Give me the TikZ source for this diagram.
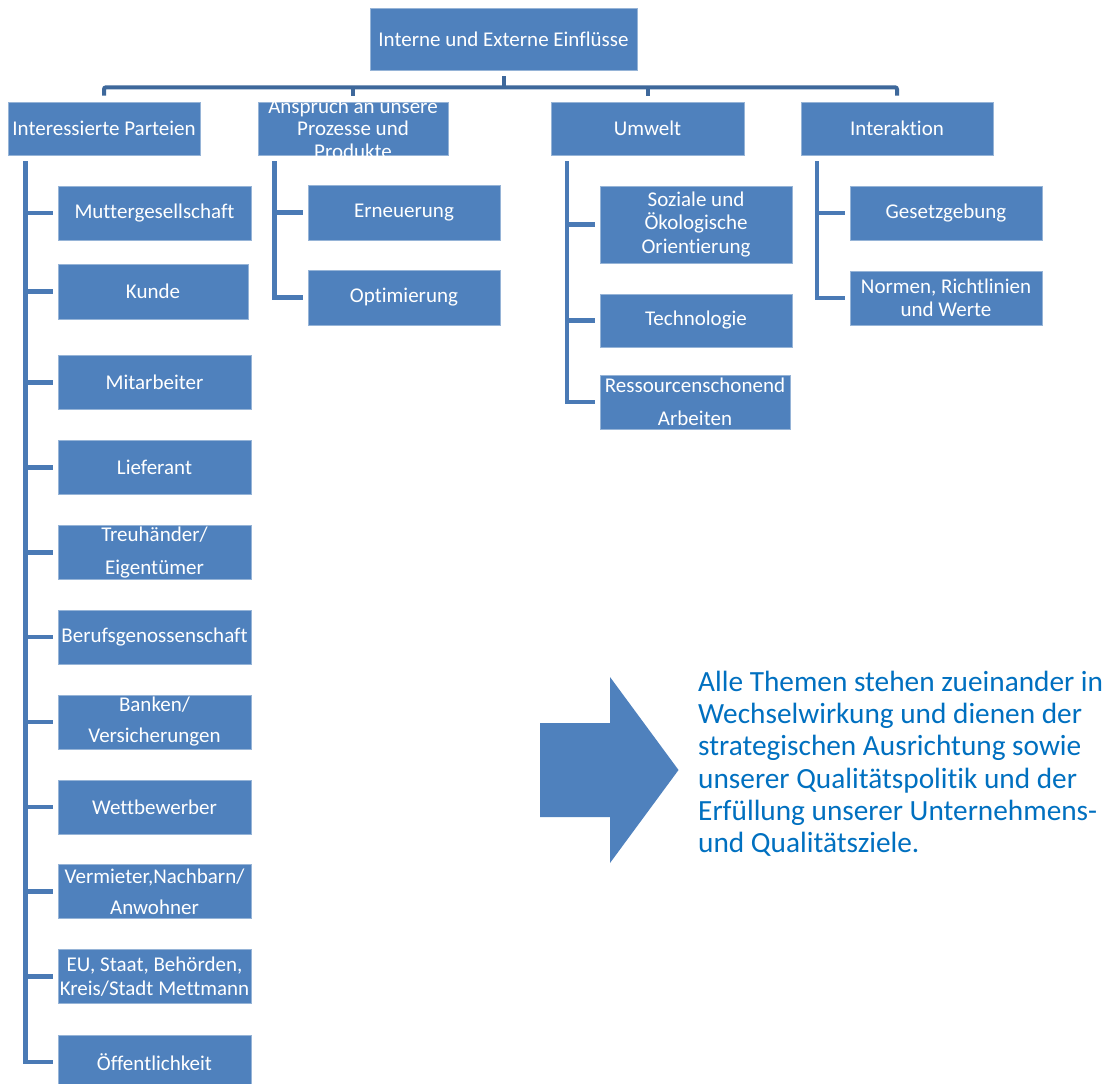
\documentclass[tikz,border=0pt]{standalone}
\usepackage{fontspec}
\setmainfont{Carlito}[Ligatures=NoCommon]
\definecolor{boxblue}{RGB}{79,129,189}
\definecolor{boxedge}{RGB}{150,180,215}
\definecolor{barblue}{RGB}{62,104,155}
\definecolor{linkblue}{RGB}{74,122,181}
\definecolor{txtblue}{RGB}{0,112,192}
\begin{document}
\begin{tikzpicture}[x=1pt,y=-1pt,
  bx/.style={rectangle, fill=boxblue, draw=boxedge, line width=0.6pt, text=white,
    inner sep=0pt, align=center, font=\fontsize{21}{23.5}\selectfont},
  wide/.style={font=\fontsize{21}{33}\selectfont},
  std/.style={minimum width=193, minimum height=54},
  bar/.style={draw=barblue, line width=4pt},
  link/.style={draw=linkblue, line width=4.5pt},
]
\useasboundingbox[fill=white] (0,0) rectangle (1115,1083);

% top
\node[bx, minimum width=267, minimum height=62] (top) at (503.5,39) {Interne und Externe Einflüsse};

% level 1
\node[bx, minimum width=192, minimum height=53] (ip) at (104,128.5) {Interessierte Parteien};
\node[bx, minimum width=190, minimum height=53] (ap) at (353,128.5) {};
\begin{scope}
  \clip (ap.south west) rectangle (ap.north east);
  \node[text=white, inner sep=0pt, align=center, font=\fontsize{21}{22.5}\selectfont] (aptext) at (ap.center) {Anspruch an unsere\\Prozesse und\\Produkte};
\end{scope}
\node[bx, minimum width=193, minimum height=53] (um) at (647.5,128.5) {Umwelt};
\node[bx, minimum width=192, minimum height=53] (ia) at (897,128.5) {Interaktion};

% left column
\node[bx, std] (mg) at (154.5,213) {Muttergesellschaft};
\node[bx, minimum width=190, minimum height=55] (ku) at (153,291.5) {Kunde};
\node[bx, std] (mi) at (154.5,382.5) {Mitarbeiter};
\node[bx, std] (li) at (154.5,467.5) {Lieferant};
\node[bx, std, wide] (tr) at (154.5,552.5) {Treuhänder/\\Eigentümer};
\node[bx, std] (be) at (154.5,637) {Berufsgenossenschaft};
\node[bx, std, font=\fontsize{21}{31}\selectfont] (ba) at (154.5,722) {Banken/\\Versicherungen};
\node[bx, std] (we) at (154.5,807) {Wettbewerber};
\node[bx, std, font=\fontsize{21}{31}\selectfont] (ve) at (154.5,891.5) {Vermieter,Nachbarn/\\Anwohner};
\node[bx, std] (eu) at (154.5,976.5) {EU, Staat, Behörden,\\Kreis/Stadt Mettmann};
\node[bx, std] (oe) at (154.5,1062) {Öffentlichkeit};

% Anspruch column
\node[bx, minimum width=192, minimum height=55] (er) at (404,212.5) {Erneuerung};
\node[bx, minimum width=192, minimum height=55] (op) at (404,297.5) {Optimierung};

% Umwelt column
\node[bx, minimum width=192, minimum height=77] (so) at (696,224.5) {Soziale und\\Ökologische\\Orientierung};
\node[bx, minimum width=192, minimum height=53] (te) at (696,320.5) {Technologie};
\node[bx, minimum width=190, minimum height=54, wide] (re) at (695,402) {Ressourcenschonend\\Arbeiten};

% Interaktion column
\node[bx, minimum width=192, minimum height=54] (ge) at (946,213) {Gesetzgebung};
\node[bx, minimum width=192, minimum height=54] (no) at (946,298) {Normen, Richtlinien\\und Werte};

% top connectors
\draw[bar] ([yshift=-6pt]top.south) -- ([yshift=-17pt]top.south);
\draw[bar, rounded corners=2pt] ([yshift=6pt]ip.north) |- ([yshift=-17pt]top.south) -| ([yshift=6pt]ia.north);
\draw[bar] ([yshift=6pt]ap.north) -- ([yshift=15pt]ap.north);
\draw[bar] ([yshift=6pt]um.north) -- ([yshift=15pt]um.north);

% spines
\coordinate (ipS) at ([shift={(18pt,-6pt)}]ip.south west);
\draw[link] (ipS) |- ([xshift=-5pt]oe.west);
\foreach \n in {mg,ku,mi,li,tr,be,ba,we,ve,eu}
  \draw[link] (ipS |- \n.west) -- ([xshift=-5pt]\n.west);

\coordinate (apS) at ([shift={(17pt,-6pt)}]ap.south west);
\draw[link] (apS) |- ([xshift=-5pt]op.west);
\draw[link] (apS |- er.west) -- ([xshift=-5pt]er.west);

\coordinate (umS) at ([shift={(16.5pt,-6pt)}]um.south west);
\draw[link] (umS) |- ([xshift=-5pt]re.west);
\foreach \n in {so,te}
  \draw[link] (umS |- \n.west) -- ([xshift=-5pt]\n.west);

\coordinate (iaS) at ([shift={(16.5pt,-6pt)}]ia.south west);
\draw[link] (iaS) |- ([xshift=-5pt]no.west);
\draw[link] (iaS |- ge.west) -- ([xshift=-5pt]ge.west);

% arrow
\fill[boxblue] (540,723) -- (610,723) -- (610,677) -- (678.5,770) -- (610,863) -- (610,817) -- (540,817) -- cycle;

% note
\node[anchor=north west, inner sep=0pt, align=left, text=txtblue, font=\fontsize{29.3}{32.2}\selectfont] (note) at (698,671)
  {Alle Themen stehen zueinander in\\Wechselwirkung und dienen der\\strategischen Ausrichtung sowie\\unserer Qualitätspolitik und der\\Erfüllung unserer Unternehmens-\\und Qualitätsziele.};
\end{tikzpicture}
\end{document}
